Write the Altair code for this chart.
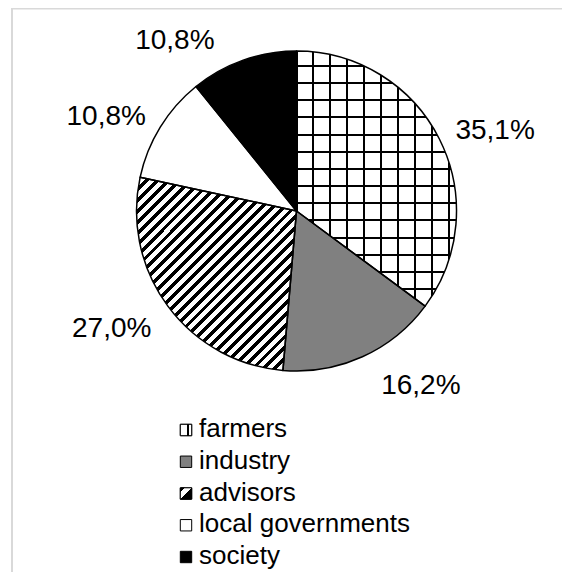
import altair as alt
import pandas as pd

# ---- data ----
categories = ["farmers", "industry", "advisors", "local governments", "society"]
shares = [35.1, 16.2, 27.0, 10.8, 10.8]
labels = [f"{v:.1f}".replace(".", ",") + "%" for v in shares]
base_fills = ["white", "#808080", "white", "white", "black"]

df = pd.DataFrame({"cat": categories, "share": shares, "label": labels,
                   "idx": list(range(len(categories)))})

# ---- layout / style ----
W, H = 551, 564
CX, CY, R = 285.5, 203.0, 160.0
FONT = "Liberation Sans"
CLEAR = "rgba(0,0,0,0)"


def band_stops(bands, on, off):
    stops = [{"offset": 0, "color": off}]
    for a, b in bands:
        a = max(0.0, min(1.0, a))
        b = max(0.0, min(1.0, b))
        if b <= a:
            continue
        stops += [{"offset": a, "color": off}, {"offset": a, "color": on},
                  {"offset": b, "color": on}, {"offset": b, "color": off}]
    stops.append({"offset": 1, "color": off})
    return stops


# farmers: grid (vertical lines layer + horizontal lines layer)
fw, fh = 160.0, 255.1
v_bands = [((k * 16.9 - 1) / fw, (k * 16.9 + 1) / fw) for k in range(0, 11)]
grad_v = {"gradient": "linear", "x1": 0, "y1": 0, "x2": 1, "y2": 0,
          "stops": band_stops(v_bands, "black", "white")}
h_bands = [((14.9 + 17.17 * k - 1) / fh, (14.9 + 17.17 * k + 1) / fh) for k in range(0, 16)]
grad_h = {"gradient": "linear", "x1": 0, "y1": 0, "x2": 0, "y2": 1,
          "stops": band_stops(h_bands, "black", CLEAR)}

# advisors: diagonal hatch "/"
aw, ah = 160.0, 193.1
scale_t = aw / (aw * aw + ah * ah)
period, black_w = 10.9, 4.9
d_bands = [((k * period) * scale_t, (k * period + black_w) * scale_t) for k in range(0, 40)]
grad_d = {"gradient": "linear", "x1": 0, "y1": 0, "x2": 1, "y2": ah / aw,
          "stops": band_stops(d_bands, "black", "white")}

# legend symbol patterns
grad_leg_f = {"gradient": "linear", "x1": 0, "y1": 0, "x2": 1, "y2": 0,
              "stops": band_stops([(0.62, 0.78)], "black", "white")}
grad_leg_a = {"gradient": "linear", "x1": 0, "y1": 0, "x2": 1, "y2": 1,
              "stops": band_stops([(0.0, 0.2), (0.5, 1.0)], "black", "white")}

theta = alt.Theta("share:Q", stack=True)
order = alt.Order("idx:Q")
fill_scale = alt.Scale(domain=categories, range=base_fills)

base = alt.Chart(df)

pie_base = base.mark_arc(radius=R, strokeWidth=0).encode(
    theta=theta, order=order, x=alt.value(CX), y=alt.value(CY),
    fill=alt.Fill("cat:N", scale=fill_scale, legend=None),
)


def pattern_layer(cat, grad):
    return base.mark_arc(radius=R, strokeWidth=0).encode(
        theta=theta, order=order, x=alt.value(CX), y=alt.value(CY),
        fill=alt.condition(alt.datum.cat == cat, alt.value(grad), alt.value(CLEAR)),
    )


outline = base.mark_arc(radius=R, stroke="black", strokeWidth=1.5,
                        strokeJoin="round", fillOpacity=0, fill="white").encode(
    theta=theta, order=order, x=alt.value(CX), y=alt.value(CY),
)

nudges = {"farmers": (20, 18), "industry": (42, 1), "advisors": (-24, 7),
          "local governments": (-20, 19), "society": (-55, 27)}

label_layers = []
for c in categories:
    dx, dy = nudges[c]
    label_layers.append(
        base.mark_text(radius=200, dx=dx, dy=dy, fontSize=28, font=FONT,
                       align="center", baseline="alphabetic", color="black").encode(
            theta=theta, order=order, x=alt.value(CX), y=alt.value(CY),
            text=alt.condition(alt.datum.cat == c, "label:N", alt.value("")),
        )
    )

leg_y = alt.Y("cat:N", scale=alt.Scale(domain=categories, range=[422, 549], padding=0),
              axis=None)
leg_sym = base.mark_square(size=130, stroke="black", strokeWidth=1, opacity=1).encode(
    x=alt.value(175), y=leg_y,
    fill=alt.Fill("cat:N", scale=fill_scale, legend=None),
)
leg_f = base.transform_filter(alt.datum.cat == "farmers").mark_square(
    size=130, stroke="black", strokeWidth=1, opacity=1, fill=grad_leg_f).encode(
    x=alt.value(175), y=leg_y)
leg_a = base.transform_filter(alt.datum.cat == "advisors").mark_square(
    size=130, stroke="black", strokeWidth=1, opacity=1, fill=grad_leg_a).encode(
    x=alt.value(175), y=leg_y)
leg_txt = base.mark_text(align="left", baseline="middle", fontSize=26, font=FONT,
                         color="black", dy=-1).encode(
    x=alt.value(188), y=leg_y, text="cat:N")

one = alt.Data(values=[{"a": 1}])
frame_left = alt.Chart(one).mark_rule(color="#d9d9d9", strokeWidth=2).encode(
    x=alt.value(1), y=alt.value(0), y2=alt.value(H))
frame_top = alt.Chart(one).mark_rule(color="#d9d9d9", strokeWidth=1.5).encode(
    x=alt.value(0), x2=alt.value(W), y=alt.value(0.75))

chart = alt.layer(
    frame_left, frame_top,
    pie_base, pattern_layer("farmers", grad_v), pattern_layer("farmers", grad_h),
    pattern_layer("advisors", grad_d), outline,
    *label_layers,
    leg_sym, leg_f, leg_a, leg_txt,
).properties(
    width=W, height=H,
    padding={"left": 3, "top": 0, "right": 0, "bottom": 0},
    autosize=alt.AutoSizeParams(type="none"),
    background="white",
).configure_view(strokeWidth=0)

chart.save("out.html", embed_options={"renderer": "svg", "actions": False})
